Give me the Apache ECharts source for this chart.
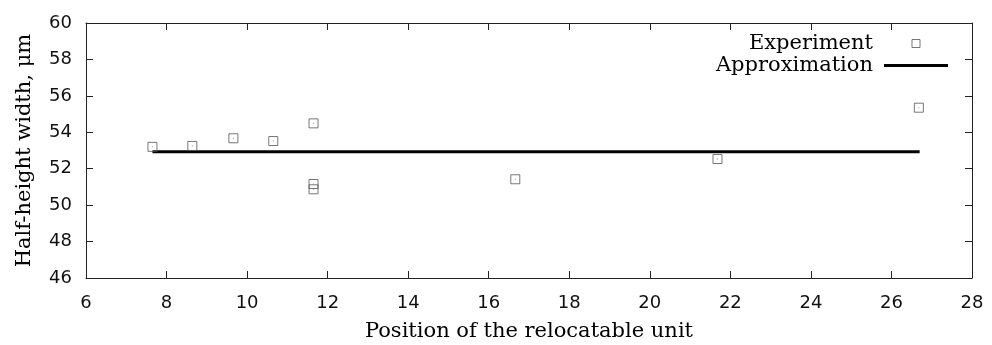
<!DOCTYPE html>
<html>
<head>
<meta charset="utf-8">
<script src="https://cdn.jsdelivr.net/npm/echarts@6/dist/echarts.min.js"></script>
<style>
  html, body { margin: 0; padding: 0; background: #fff; }
  #chart { width: 992px; height: 345px; }
</style>
</head>
<body>
<div id="chart"></div>
<script>
// measured points (position, half-height width)
const expX = [7.65, 8.64, 9.66, 10.65, 11.65, 11.65, 11.65, 16.66, 21.68, 26.68];
const expY = [53.2, 53.25, 53.67, 53.52, 54.49, 51.16, 50.87, 51.42, 52.53, 55.35];
// approximation line (constant)
const approxX = [7.65, 26.7];
const approxY = [52.93, 52.93];
const xTicks = [6, 8, 10, 12, 14, 16, 18, 20, 22, 24, 26, 28];
const yTicks = [46, 48, 50, 52, 54, 56, 58, 60];

const serif = '"DejaVu Serif", serif';
const sans = '"DejaVu Sans", sans-serif';
const axisCol = '#222';

const expData = expX.map((x, i) => [x, expY[i]]);
const approxData = approxX.map((x, i) => [x, approxY[i]]);

const chart = echarts.init(document.getElementById('chart'), null, { renderer: 'canvas' });

const xBase = {
    type: 'value',
    min: xTicks[0],
    max: xTicks[xTicks.length - 1],
    interval: 2,
    splitLine: { show: false },
    axisLine: { show: true, onZero: false, lineStyle: { color: axisCol, width: 1 } },
    axisTick: { show: true, inside: true, length: 7, lineStyle: { color: axisCol } },
};
const yBase = {
    type: 'value',
    min: yTicks[0],
    max: yTicks[yTicks.length - 1],
    interval: 2,
    splitLine: { show: false },
    axisLine: { show: true, onZero: false, lineStyle: { color: axisCol, width: 1 } },
    axisTick: { show: true, inside: true, length: 7, lineStyle: { color: axisCol } },
};

const option = {
    animation: false,
    backgroundColor: '#fff',
    // fixed plot box, no auto shrinking for labels
    grid: { left: 86, right: 20, top: 23, bottom: 67, show: false, outerBoundsMode: 'none', containLabel: false },
    legend: {
        orient: 'vertical',
        align: 'right',
        right: 39,
        top: 28,
        itemWidth: 64,
        itemHeight: 8,
        itemGap: 1,
        symbolKeepAspect: true,
        textStyle: { fontFamily: serif, fontSize: 21, color: '#000', padding: [0, 6, 0, 0] },
        data: [
            {
                name: 'Experiment',
                icon: 'path://M0 0H8V8H0Z',
                itemStyle: { color: 'rgba(0,0,0,0)', borderColor: '#555', borderWidth: 1 }
            },
            {
                name: 'Approximation',
                icon: 'path://M0 0H64V3H0Z',
                itemStyle: { color: '#000', borderWidth: 0 }
            }
        ]
    },
    xAxis: [
        Object.assign({}, xBase, {
            position: 'bottom',
            name: 'Position of the relocatable unit',
            nameLocation: 'middle',
            nameGap: 43,
            nameMoveOverlap: false,
            nameTextStyle: { fontFamily: serif, fontSize: 21, color: '#000' },
            axisLabel: { margin: 16, fontFamily: sans, fontSize: 18, color: '#111' }
        }),
        Object.assign({}, xBase, { position: 'top', axisLabel: { show: false } })
    ],
    yAxis: [
        Object.assign({}, yBase, {
            position: 'left',
            name: 'Half-height width, μm',
            nameLocation: 'middle',
            nameGap: 51,
            nameMoveOverlap: false,
            nameTextStyle: { fontFamily: serif, fontSize: 21, color: '#000' },
            axisLabel: { margin: 14, fontFamily: sans, fontSize: 18, color: '#111' }
        }),
        Object.assign({}, yBase, { position: 'right', axisLabel: { show: false } })
    ],
    series: [
        {
            name: 'Approximation',
            type: 'line',
            data: approxData,
            showSymbol: false,
            symbol: 'none',
            lineStyle: { color: '#000', width: 3 },
            z: 2
        },
        {
            name: 'Experiment',
            type: 'scatter',
            data: expData,
            symbol: 'rect',
            symbolSize: 9,
            itemStyle: { color: 'rgba(0,0,0,0)', borderColor: '#555', borderWidth: 1 },
            z: 3
        },
        {
            // tiny dot in the middle of each square
            name: 'dots',
            type: 'scatter',
            data: expData,
            symbol: 'rect',
            symbolSize: 1,
            itemStyle: { color: '#777' },
            silent: true,
            z: 4
        }
    ]
};

chart.setOption(option);
</script>
</body>
</html>
